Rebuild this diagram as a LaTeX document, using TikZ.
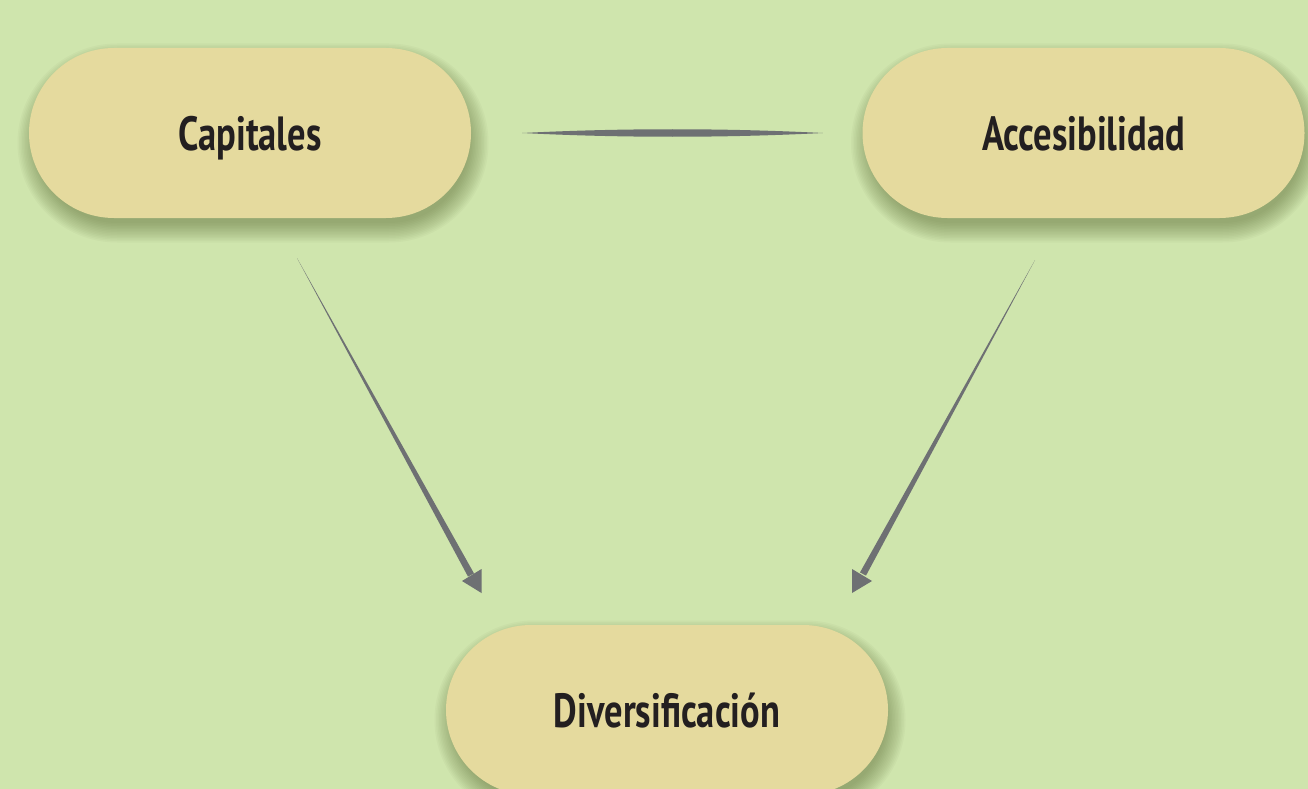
\documentclass[tikz,border=0pt]{standalone}
\usepackage{fontspec}
\setmainfont{PT Sans}[FakeStretch=0.76]
\usetikzlibrary{calc,backgrounds}
\definecolor{bg}{HTML}{CFE5AD}
\definecolor{boxc}{HTML}{E5DA9E}
\definecolor{arr}{HTML}{6E7073}
\definecolor{txt}{HTML}{231F20}
\definecolor{shd}{HTML}{56652F}
\tikzset{
  pill/.style={rectangle, rounded corners=85pt, fill=boxc, minimum width=442pt,
    minimum height=170pt, inner sep=0pt, text=txt, text height=44pt, text depth=10pt,
    font=\fontsize{48}{52}\selectfont\bfseries},
  taper/.style={fill=arr, draw=none},
}
\newcommand\pillshadow[1]{%
  \foreach \i in {0,...,13}{%
    \pgfmathsetmacro\rr{80+\i*1.5}%
    \fill[shd, opacity=0.04, rounded corners=\rr pt]
      ($(#1.center)+(-216-\i*1.5+3, -80-\i*1.5+10)$) rectangle
      ($(#1.center)+(216+\i*1.5+3, 80+\i*1.5+10)$);
  }%
}
\begin{document}
\begin{tikzpicture}[x=1pt,y=-1pt]
\useasboundingbox (0,0) rectangle (1308,789);
\node[pill] (cap) at (250,133) {Capitales};
\node[pill] (acc) at (1083.5,133) {Accesibilidad};
\node[pill] (div) at (667,710) {Diversificación};
\begin{scope}[on background layer]
  \fill[bg] (0,0) rectangle (1308,789);
  \pillshadow{cap}
  \pillshadow{acc}
  \pillshadow{div}
\end{scope}
% top connector (lens)
\coordinate (l1) at ($(cap.east)+(51,0)$);
\coordinate (l2) at ($(acc.west)+(-39.5,0)$);
\fill[taper] (l1) .. controls ($(l1)!0.33!(l2)+(0,-5)$) and ($(l1)!0.67!(l2)+(0,-5)$) .. (l2)
  .. controls ($(l1)!0.67!(l2)+(0,5)$) and ($(l1)!0.33!(l2)+(0,5)$) .. (l1) -- cycle;
% left arrow
\coordinate (a1) at (297,258);
\coordinate (a2) at (471,575);
\fill[taper] (a1) -- ($(a2)+(-3,1.6)$) -- ($(a2)+(3,-1.6)$) -- cycle;
\coordinate (h1) at (462,581);
\fill[taper] (h1) -- (481.5,569) -- (481.5,593) -- cycle;
% right arrow
\coordinate (b1) at (1035,260);
\coordinate (b2) at (863,574);
\fill[taper] (b1) -- ($(b2)+(3,1.6)$) -- ($(b2)+(-3,-1.6)$) -- cycle;
\coordinate (h2) at (872,581);
\fill[taper] (h2) -- (852,569) -- (852,593) -- cycle;
\end{tikzpicture}
\end{document}
